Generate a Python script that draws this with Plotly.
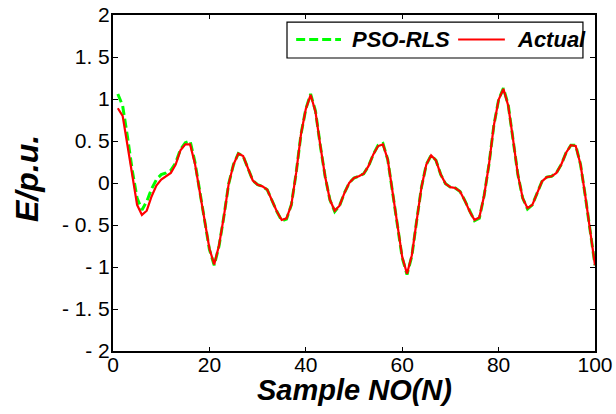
import plotly.graph_objects as go

sample_no = list(range(1, 101))

actual = [
    0.89, 0.80, 0.45, 0.07, -0.26, -0.38, -0.33, -0.16, -0.03, 0.04,
    0.08, 0.12, 0.22, 0.39, 0.46, 0.46, 0.23, -0.10, -0.42, -0.78,
    -0.97, -0.74, -0.40, -0.01, 0.22, 0.35, 0.32, 0.17, 0.03, -0.02,
    -0.04, -0.08, -0.22, -0.34, -0.44, -0.42, -0.26, 0.12, 0.58, 0.88,
    1.05, 0.85, 0.45, 0.08, -0.20, -0.33, -0.27, -0.12, 0.00, 0.06,
    0.08, 0.11, 0.20, 0.34, 0.44, 0.46, 0.28, -0.10, -0.48, -0.88,
    -1.08, -0.86, -0.45, -0.05, 0.22, 0.33, 0.27, 0.10, -0.01, -0.05,
    -0.06, -0.10, -0.21, -0.34, -0.44, -0.41, -0.15, 0.22, 0.68, 0.99,
    1.12, 0.92, 0.52, 0.10, -0.18, -0.30, -0.26, -0.12, 0.02, 0.07,
    0.08, 0.12, 0.22, 0.36, 0.45, 0.44, 0.22, -0.16, -0.58, -0.98,
]

pso_rls = [
    1.06, 0.92, 0.55, 0.15, -0.18, -0.32, -0.22, -0.07, 0.04, 0.10,
    0.12, 0.15, 0.24, 0.40, 0.48, 0.50, 0.25, -0.10, -0.42, -0.79,
    -0.98, -0.75, -0.40, -0.01, 0.22, 0.35, 0.32, 0.17, 0.03, -0.02,
    -0.04, -0.08, -0.22, -0.34, -0.45, -0.43, -0.26, 0.12, 0.58, 0.88,
    1.06, 0.86, 0.45, 0.08, -0.20, -0.34, -0.27, -0.12, 0.00, 0.06,
    0.08, 0.11, 0.20, 0.34, 0.45, 0.47, 0.28, -0.10, -0.48, -0.89,
    -1.09, -0.87, -0.45, -0.05, 0.22, 0.33, 0.27, 0.10, -0.01, -0.05,
    -0.06, -0.10, -0.21, -0.34, -0.45, -0.42, -0.15, 0.22, 0.68, 0.99,
    1.13, 0.93, 0.52, 0.10, -0.18, -0.31, -0.26, -0.12, 0.02, 0.07,
    0.08, 0.12, 0.22, 0.36, 0.45, 0.45, 0.22, -0.16, -0.58, -0.98,
]

x_ticks = [0, 20, 40, 60, 80, 100]
y_ticks = [-2, -1.5, -1, -0.5, 0, 0.5, 1, 1.5, 2]
y_tick_labels = ["- 2", "- 1. 5", "- 1", "- 0. 5", "0", "0. 5", "1", "1. 5", "2"]

FONT = "Arial, Liberation Sans, sans-serif"

fig = go.Figure()
fig.add_trace(go.Scatter(
    x=sample_no, y=pso_rls, name="PSO-RLS", mode="lines",
    line=dict(color="#00ff00", width=3, dash="9px,4px"),
))
fig.add_trace(go.Scatter(
    x=sample_no, y=actual, name="Actual", mode="lines",
    line=dict(color="#ff0000", width=2.2),
))

# legend drawn as a box with samples and labels
LX0, LX1, LY0, LY1 = 0.361, 0.975, 0.872, 0.979
LYC = 0.927
fig.add_shape(type="rect", xref="paper", yref="paper", x0=LX0, x1=LX1, y0=LY0, y1=LY1,
              line=dict(color="black", width=1.2), fillcolor="white", layer="above")
fig.add_shape(type="line", xref="paper", yref="paper", x0=0.380, x1=0.473, y0=LYC, y1=LYC,
              line=dict(color="#00ff00", width=3, dash="9px,4px"), layer="above")
fig.add_shape(type="line", xref="paper", yref="paper", x0=0.716, x1=0.813, y0=LYC, y1=LYC,
              line=dict(color="#ff0000", width=2), layer="above")
fig.add_annotation(xref="paper", yref="paper", x=0.492, y=LYC, xanchor="left", yanchor="middle",
                   text="<b><i>PSO-RLS</i></b>", showarrow=False,
                   font=dict(family=FONT, size=22, color="black"))
fig.add_annotation(xref="paper", yref="paper", x=0.834, y=LYC, xanchor="left", yanchor="middle",
                   text="<b><i>Actual</i></b>", showarrow=False,
                   font=dict(family=FONT, size=22, color="black"))

# axis titles
fig.add_annotation(xref="paper", yref="paper", x=0.5, y=0, xanchor="center", yanchor="middle",
                   yshift=-39, text="<b><i>Sample NO(N)</i></b>", showarrow=False,
                   font=dict(family=FONT, size=29, color="black"))
fig.add_annotation(xref="paper", yref="paper", x=0, y=0.5, xanchor="center", yanchor="middle",
                   xshift=-86, yshift=4, textangle=-90, text="<b><i>E/p.u.</i></b>", showarrow=False,
                   font=dict(family=FONT, size=32, color="black"))

axis_common = dict(
    showgrid=False, zeroline=False, showline=True, linecolor="black", linewidth=2,
    mirror="ticks", ticks="inside", tickcolor="black", tickwidth=1.2, automargin=False,
    tickfont=dict(family=FONT, size=21, color="black"),
)

fig.update_xaxes(range=[0, 100], tickvals=x_ticks, ticklen=4, ticklabelstandoff=-6, **axis_common)
fig.update_yaxes(range=[-2, 2], tickvals=y_ticks, ticktext=y_tick_labels, ticklen=5,
                 ticklabelstandoff=-3, **axis_common)

fig.update_layout(
    width=616, height=414,
    margin=dict(l=113, r=21, t=15, b=62.5, autoexpand=False),
    paper_bgcolor="white", plot_bgcolor="white",
    showlegend=False,
    font=dict(family=FONT, color="black"),
)

fig.write_html(
    "out.html",
    config={"displayModeBar": False},
    post_script="document.body.style.margin='0';document.body.style.overflow='hidden';",
)
